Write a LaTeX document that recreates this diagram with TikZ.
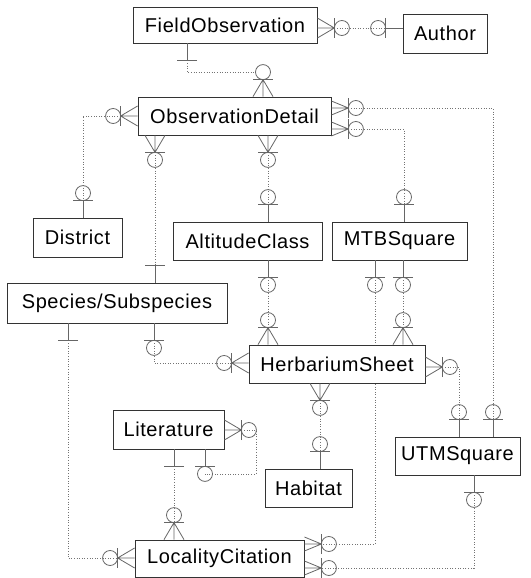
\documentclass[tikz,border=0pt]{standalone}
\usepackage{fontspec}
\setmainfont{Liberation Sans}[LetterSpace=3]
\usetikzlibrary{calc,backgrounds}

\tikzset{
  ent/.style={draw=black!80, line width=0.8pt, fill=white, inner sep=0pt,
              font=\fontsize{20}{24}\selectfont},
  sym/.style={draw=black!60, line width=0.8pt},
  rel/.style={draw=black!55, line width=0.8pt, dash pattern=on 1pt off 1.6pt},
}

% relationship ends: #1 name, #2 point on the entity border, #3 #4 outward direction
\newcommand\tipone[4]{%
  \coordinate (#1) at (#2);
  \coordinate (#1b) at ($(#1)+({17*(#3)},{17*(#4)})$);
  \coordinate (#1c) at ($(#1)+({24.5*(#3)},{24.5*(#4)})$);
  \draw[sym] (#1) -- (#1b);
  \draw[sym] ($(#1b)+({10*(#4)},{10*(#3)})$) -- ($(#1b)-({10*(#4)},{10*(#3)})$);
}
\newcommand\tipopt[4]{%
  \tipone{#1}{#2}{#3}{#4}%
  \draw[sym] (#1c) circle[radius=7.5];
}
% crow's foot with bar and circle; #5 half spread of the foot
\newcommand\tipmany[5]{%
  \coordinate (#1) at (#2);
  \coordinate (#1b) at ($(#1)+({17*(#3)},{17*(#4)})$);
  \coordinate (#1c) at ($(#1)+({24.5*(#3)},{24.5*(#4)})$);
  \draw[sym] (#1) -- (#1b)
             ($(#1)+({#5*(#4)},{#5*(#3)})$) -- (#1b) -- ($(#1)-({#5*(#4)},{#5*(#3)})$);
  \draw[sym] ($(#1b)+({10*(#4)},{10*(#3)})$) -- ($(#1b)-({10*(#4)},{10*(#3)})$);
  \draw[sym] (#1c) circle[radius=7.5];
}

\begin{document}
\begin{tikzpicture}[x=1pt,y=-1pt]
\useasboundingbox (0,0) rectangle (530,578);

% entities
\node[ent, minimum width=184, minimum height=36] (fo)       at (225,25)    {FieldObservation};
\node[ent, minimum width=84,  minimum height=39] (author)   at (445,33.5)  {Author};
\node[ent, minimum width=193, minimum height=38] (od)       at (234.5,116) {ObservationDetail};
\node[ent, minimum width=89,  minimum height=39] (district) at (77.5,237.5) {District};
\node[ent, minimum width=149, minimum height=38] (alt)      at (247.5,241) {AltitudeClass};
\node[ent, minimum width=135, minimum height=38] (mtb)      at (399.5,241) {MTBSquare};
\node[ent, minimum width=220, minimum height=40] (sp)       at (117,303)   {Species/Subspecies};
\node[ent, minimum width=176, minimum height=38] (hs)       at (337,364)   {HerbariumSheet};
\node[ent, minimum width=111, minimum height=39] (lit)      at (168.5,429.5) {Literature};
\node[ent, minimum width=87,  minimum height=38] (hab)      at (308.5,488) {Habitat};
\node[ent, minimum width=125, minimum height=38] (utm)      at (457.5,456) {UTMSquare};
\node[ent, minimum width=169, minimum height=37] (lc)       at (219.5,558.5) {LocalityCitation};

% relationship ends
\tipmany{foE}{fo.east |- 0,28}{1}{0}{10}
\tipopt{auW}{author.west |- 0,28}{-1}{0}
\tipone{foS}{fo.south -| 187,0}{0}{1}
\tipmany{odN}{od.north -| 263,0}{0}{-1}{10}
\tipmany{odW}{od.west |- 0,116}{-1}{0}{10}
\tipopt{diN}{district.north -| 83,0}{0}{-1}
\tipmany{odS1}{od.south -| 155,0}{0}{1}{10}
\tipone{spN}{sp.north -| 155,0}{0}{-1}
\tipmany{odS2}{od.south -| 268,0}{0}{1}{10}
\tipopt{alN}{alt.north -| 268,0}{0}{-1}
\tipmany{odE1}{od.east |- 0,108}{1}{0}{7}
\tipmany{odE2}{od.east |- 0,129}{1}{0}{7}
\tipopt{mtN}{mtb.north -| 404,0}{0}{-1}
\tipopt{utN2}{utm.north -| 493,0}{0}{-1}
\tipopt{alS}{alt.south -| 268,0}{0}{1}
\tipmany{hsN1}{hs.north -| 268,0}{0}{-1}{10}
\tipopt{mtS2}{mtb.south -| 403,0}{0}{1}
\tipmany{hsN2}{hs.north -| 403,0}{0}{-1}{10}
\tipopt{mtS1}{mtb.south -| 375,0}{0}{1}
\tipmany{lcE1}{lc.east |- 0,544}{1}{0}{7}
\tipopt{spS2}{sp.south -| 154,0}{0}{1}
\tipmany{hsW}{hs.west |- 0,363}{-1}{0}{10}
\tipone{spS1}{sp.south -| 68,0}{0}{1}
\tipmany{lcW}{lc.west |- 0,558}{-1}{0}{10}
\tipmany{hsE}{hs.east |- 0,367}{1}{0}{10}
\tipopt{utN1}{utm.north -| 459,0}{0}{-1}
\tipmany{hsS}{hs.south -| 320,0}{0}{1}{10}
\tipopt{haN}{hab.north -| 320,0}{0}{-1}
\tipmany{liE}{lit.east |- 0,430}{1}{0}{10}
\tipopt{liS2}{lit.south -| 205,0}{0}{1}
\tipone{liS1}{lit.south -| 174,0}{0}{1}
\tipmany{lcN}{lc.north -| 174,0}{0}{-1}{10}
\tipopt{utS}{utm.south -| 474,0}{0}{1}
\tipmany{lcE2}{lc.east |- 0,568}{1}{0}{7}

% relationship lines
\begin{pgfonlayer}{background}
\draw[rel] (foEb) -- (auWb);
\draw[rel] (foSb) |- ($(odNc)-(7.5,0)$);
\draw[rel] (odWb) -| (diNb);
\draw[rel] (odS1b) -- (spNb);
\draw[rel] (odS2b) -- (alNb);
\draw[rel] (odE2b) -| (mtNb);
\draw[rel] (odE1b) -| (utN2b);
\draw[rel] (alSb) -- (hsN1b);
\draw[rel] (mtS2b) -- (hsN2b);
\draw[rel] (mtS1b) |- (lcE1b);
\draw[rel] (spS2b) |- (hsWb);
\draw[rel] (spS1b) |- (lcWb);
\draw[rel] (hsEb) -| (utN1b);
\draw[rel] (hsSb) -- (haNb);
\draw[rel] (liEb) -- ($(liEc)+(7,0)$) |- (liS2c);
\draw[rel] (liS1b) -- (lcNb);
\draw[rel] (utSb) |- (lcE2b);
\end{pgfonlayer}
\end{tikzpicture}
\end{document}
